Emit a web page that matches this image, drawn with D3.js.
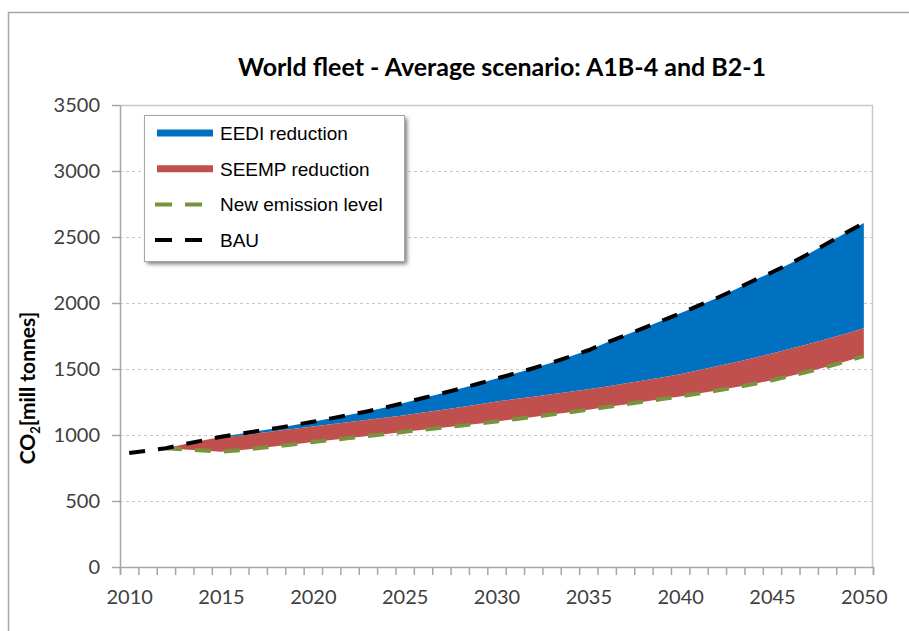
<!DOCTYPE html>
<html>
<head>
<meta charset="utf-8">
<script src="https://cdn.jsdelivr.net/npm/d3@7"></script>
<style>
  body { margin: 0; background: #fff; }
  svg { display: block; }
</style>
</head>
<body>
<svg id="chart"></svg>
<script>
// years on the category axis
let years = d3.range(2010, 2051)

// BAU emission (mill tonnes CO2)
let bau = [864, 882, 900, 930, 958, 987, 1008, 1030, 1052, 1076,
  1100, 1126, 1153, 1180, 1210, 1245, 1280, 1315, 1350, 1388,
  1428, 1466, 1506, 1548, 1594, 1642, 1700, 1755, 1810, 1865,
  1922, 1980, 2038, 2102, 2170, 2233, 2300, 2373, 2450, 2530, 2606]

// level after EEDI reduction (top of the red band)
let afterEedi = [null, null, 900, 930, 958, 985, 995, 1013, 1030, 1047,
  1064, 1081, 1098, 1116, 1133, 1150, 1170, 1190, 1210, 1232,
  1254, 1272, 1290, 1308, 1327, 1346, 1368, 1390, 1412, 1436,
  1460, 1490, 1520, 1551, 1584, 1618, 1653, 1689, 1727, 1767, 1808]

// new emission level (after EEDI and SEEMP)
let newLevel = [null, null, 900, 891, 882, 873, 885, 900, 914, 930,
  947, 962, 977, 993, 1008, 1025, 1040, 1055, 1070, 1085,
  1103, 1120, 1137, 1155, 1173, 1192, 1212, 1232, 1252, 1272,
  1292, 1314, 1337, 1361, 1387, 1415, 1447, 1481, 1517, 1556, 1598]

let yTicks = [0, 500, 1000, 1500, 2000, 2500, 3000, 3500]
let xLabels = [2010, 2015, 2020, 2025, 2030, 2035, 2040, 2045, 2050]

let legendItems = [
  { label: 'EEDI reduction', type: 'band', color: '#0070C0' },
  { label: 'SEEMP reduction', type: 'band', color: '#C0504D' },
  { label: 'New emission level', type: 'dash', color: '#77933C' },
  { label: 'BAU', type: 'dash', color: '#000000' }
]

//outer size and plotting region
let outerWidth = 909
let outerHeight = 631
let margins = { top: 105, bottom: 64, left: 120, right: 36 }
let innerWidth = outerWidth - margins.left - margins.right
let innerHeight = outerHeight - margins.top - margins.bottom

let tickFont = 'Lato, sans-serif'

let rows = years.map((y, i) => ({ year: y, bau: bau[i], eedi: afterEedi[i], level: newLevel[i] }))

let svg = d3.select('svg#chart')
  .attr('width', outerWidth)
  .attr('height', outerHeight)

// shadow filter for legend
let defs = svg.append('defs')
defs.append('filter')
  .attr('id', 'shadow')
  .attr('x', '-10%').attr('y', '-10%').attr('width', '130%').attr('height', '130%')
  .append('feGaussianBlur')
  .attr('stdDeviation', 2)

//chart frame (only top and left edges show in the picture)
svg.append('path')
  .attr('d', `M8.5,${outerHeight}V12.5H${outerWidth}`)
  .attr('fill', 'none')
  .attr('stroke', '#a6a6a6')
  .attr('stroke-width', 1.5)

let inner = svg.append('g')
  .attr('transform', 'translate(' + margins.left + ',' + margins.top + ')')

// category axis: each year takes one slot, points sit in the middle
let xScale = d3.scaleLinear()
  .domain([2009.5, 2050.5])
  .range([0, innerWidth])

let yScale = d3.scaleLinear()
  .domain([0, 3500])
  .range([innerHeight, 0])

//gridlines
inner.append('g')
  .selectAll('line')
  .data(yTicks.filter(d => d > 0 && d < 3500))
  .join('line')
  .attr('x1', 0)
  .attr('x2', innerWidth)
  .attr('y1', d => yScale(d) + 0.5)
  .attr('y2', d => yScale(d) + 0.5)
  .attr('stroke', '#c8c8c8')
  .attr('stroke-dasharray', '3,3')

//plot border (top and right)
inner.append('path')
  .attr('d', `M0,0.5H${innerWidth - 0.5}V${innerHeight}`)
  .attr('fill', 'none')
  .attr('stroke', '#c8c8c8')
  .attr('stroke-width', 1.5)

//areas
let eediArea = d3.area()
  .defined(d => d.eedi != null)
  .x(d => xScale(d.year))
  .y0(d => yScale(d.eedi))
  .y1(d => yScale(d.bau))

let seempArea = d3.area()
  .defined(d => d.level != null)
  .x(d => xScale(d.year))
  .y0(d => yScale(d.level))
  .y1(d => yScale(d.eedi))

inner.append('path')
  .datum(rows)
  .attr('d', eediArea)
  .attr('fill', '#0070C0')

inner.append('path')
  .datum(rows)
  .attr('d', seempArea)
  .attr('fill', '#C0504D')

//lines
let levelLine = d3.line()
  .defined(d => d.level != null)
  .x(d => xScale(d.year))
  .y(d => yScale(d.level))

let bauLine = d3.line()
  .x(d => xScale(d.year))
  .y(d => yScale(d.bau))

inner.append('path')
  .datum(rows)
  .attr('d', levelLine)
  .attr('fill', 'none')
  .attr('stroke', '#77933C')
  .attr('stroke-width', 4)
  .attr('stroke-dasharray', '16,13')

inner.append('path')
  .datum(rows)
  .attr('d', bauLine)
  .attr('fill', 'none')
  .attr('stroke', '#000')
  .attr('stroke-width', 4)
  .attr('stroke-dasharray', '16,13')

//axes
let yAxis = d3.axisLeft(yScale)
  .tickValues(yTicks)
  .tickSize(8)
  .tickPadding(12)
  .tickFormat(d3.format('d'))

inner.append('g')
  .attr('class', 'y axis')
  .call(yAxis)
  .attr('font-family', tickFont)
  .attr('font-size', 20)
  .call(g => g.select('.domain').remove())
  .call(g => g.selectAll('text').attr('fill', '#404040'))

inner.append('line')
  .attr('x1', 0.5).attr('x2', 0.5)
  .attr('y1', 0).attr('y2', innerHeight)
  .attr('stroke', '#a6a6a6')
  .attr('stroke-width', 1.5)

// tick marks on category boundaries (no labels)
let xTickAxis = d3.axisBottom(xScale)
  .tickValues(d3.range(2009.5, 2051, 1))
  .tickSize(8)

inner.append('g')
  .attr('class', 'x axis')
  .attr('transform', 'translate(0,' + innerHeight + ')')
  .call(xTickAxis)
  .call(g => g.selectAll('text').remove())

let xLabelAxis = d3.axisBottom(xScale)
  .tickValues(xLabels)
  .tickSize(0)
  .tickPadding(23)
  .tickFormat(d3.format('d'))

inner.append('g')
  .attr('class', 'x labels')
  .attr('transform', 'translate(0,' + innerHeight + ')')
  .call(xLabelAxis)
  .attr('font-family', tickFont)
  .attr('font-size', 20)
  .call(g => g.select('.domain').remove())
  .call(g => g.selectAll('text').attr('fill', '#404040'))

svg.selectAll('.axis line, .axis path')
  .attr('stroke', '#a6a6a6')
  .attr('stroke-width', 1.5)

//title
svg.append('text')
  .attr('x', 502)
  .attr('y', 76)
  .attr('text-anchor', 'middle')
  .attr('font-family', 'Lato, sans-serif')
  .attr('font-weight', 'bold')
  .attr('font-size', 25)
  .attr('fill', '#000')
  .text('World fleet - Average scenario: A1B-4 and B2-1')

//y axis label
let yLabel = svg.append('text')
  .attr('transform', 'translate(35,388) rotate(-90)')
  .attr('text-anchor', 'middle')
  .attr('font-family', 'Lato, sans-serif')
  .attr('font-weight', 'bold')
  .attr('font-size', 21)
  .attr('fill', '#000')
yLabel.append('tspan').text('CO')
yLabel.append('tspan').attr('dy', 5).attr('font-size', 13).text('2')
yLabel.append('tspan').attr('dy', -5).text('[mill tonnes]')

//legend
let legend = svg.append('g').attr('transform', 'translate(144,115)')

legend.append('rect')
  .attr('x', 3).attr('y', 3)
  .attr('width', 260).attr('height', 146)
  .attr('fill', '#777')
  .attr('filter', 'url(#shadow)')

legend.append('rect')
  .attr('x', 0.5).attr('y', 0.5)
  .attr('width', 260).attr('height', 146)
  .attr('fill', 'white')
  .attr('stroke', '#a6a6a6')

let entries = legend.selectAll('g.entry')
  .data(legendItems)
  .join('g')
  .attr('class', 'entry')
  .attr('transform', (d, i) => 'translate(0,' + (18 + i * 35.7) + ')')

entries.filter(d => d.type == 'band')
  .append('line')
  .attr('x1', 13).attr('x2', 69)
  .attr('stroke', d => d.color)
  .attr('stroke-width', 7)

entries.filter(d => d.type == 'dash')
  .append('line')
  .attr('x1', 11).attr('x2', 60)
  .attr('stroke', d => d.color)
  .attr('stroke-width', 4)
  .attr('stroke-dasharray', '17,13')

entries.append('text')
  .attr('x', 76)
  .attr('y', 7)
  .attr('font-family', "'Liberation Sans', Arial, sans-serif")
  .attr('font-size', 19)
  .attr('fill', '#000')
  .text(d => d.label)
</script>
</body>
</html>
